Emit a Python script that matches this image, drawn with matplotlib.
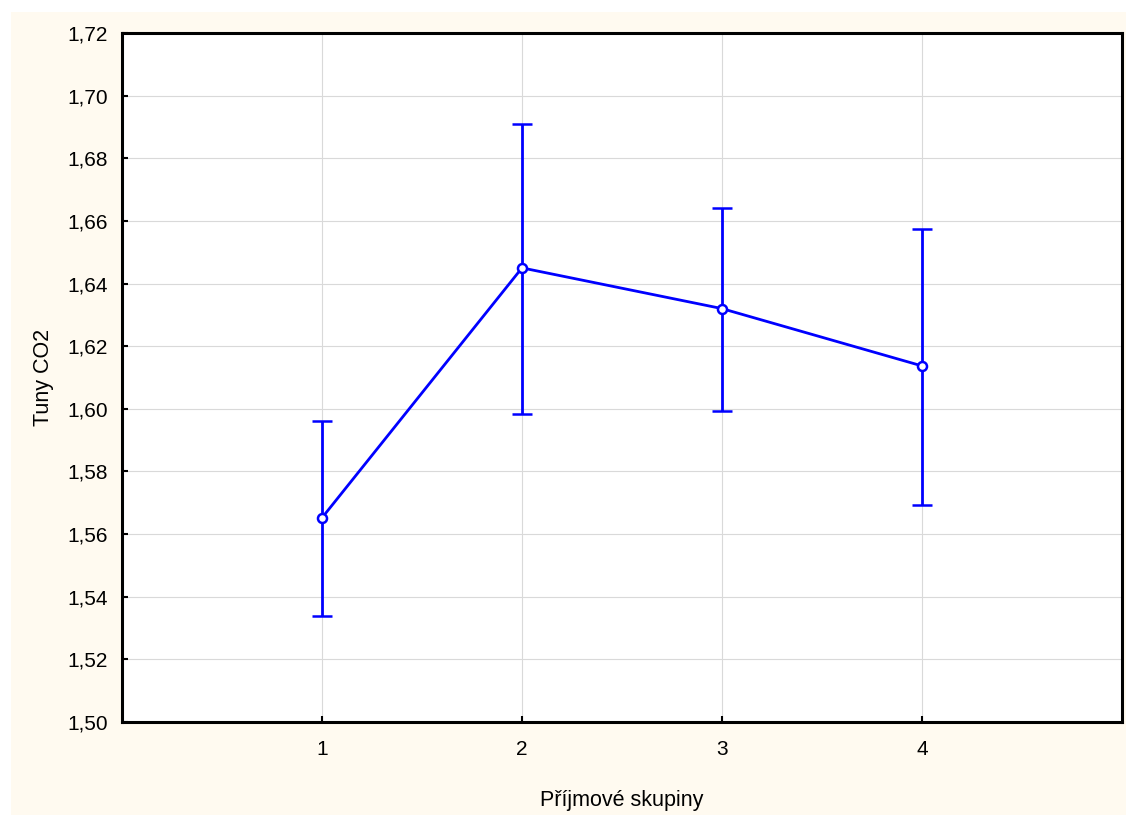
import matplotlib.pyplot as plt
import matplotlib.patches as patches

# data
groups = [1, 2, 3, 4]
means = [1.5652, 1.6450, 1.6320, 1.6137]
upper = [1.5960, 1.6910, 1.6642, 1.6575]
lower = [1.5337, 1.5983, 1.5993, 1.5693]
yticks = [1.50, 1.52, 1.54, 1.56, 1.58, 1.60, 1.62, 1.64, 1.66, 1.68, 1.70, 1.72]

plt.rcParams['font.family'] = ['Liberation Sans', 'DejaVu Sans']

fig = plt.figure(figsize=(11.26, 8.15), dpi=100, facecolor="white")
# cream panel behind everything
fig.patches.append(patches.Rectangle((11 / 1126, 0), 1, 1 - 12 / 815,
                                     transform=fig.transFigure, facecolor="#FFFAF0",
                                     edgecolor="none", zorder=-1))

ax = fig.add_axes([122 / 1126, 1 - 722 / 815, (1122 - 122) / 1126, (722 - 33) / 815])
ax.set_facecolor("white")

yerr = [[m - l for m, l in zip(means, lower)], [u - m for m, u in zip(means, upper)]]
ax.errorbar(groups, means, yerr=yerr, color="#0000FF", lw=2, elinewidth=2,
            capsize=7, capthick=2, marker="o", markersize=6.5, markerfacecolor="white",
            markeredgecolor="#0000FF", markeredgewidth=1.8, zorder=3)

ax.set_xlim(0, 5)
ax.set_ylim(1.50, 1.72)
ax.set_xticks(groups)
ax.set_yticks(yticks)
ax.set_yticklabels([f"{v:.2f}".replace(".", ",") for v in yticks])
ax.grid(True, color="#D9D9D9", lw=0.8, zorder=0)
ax.set_axisbelow(True)

for s in ax.spines.values():
    s.set_linewidth(2.2)
    s.set_color("black")
ax.tick_params(direction="in", length=4, width=1.5, labelsize=15)
ax.tick_params(axis="y", pad=10)
ax.tick_params(axis="x", pad=13)

ax.set_xlabel("Příjmové skupiny", fontsize=15.5, labelpad=22)
ax.set_ylabel("Tuny CO2", fontsize=15.5, labelpad=10)

fig.savefig("out.png", dpi=100, facecolor=fig.get_facecolor())
